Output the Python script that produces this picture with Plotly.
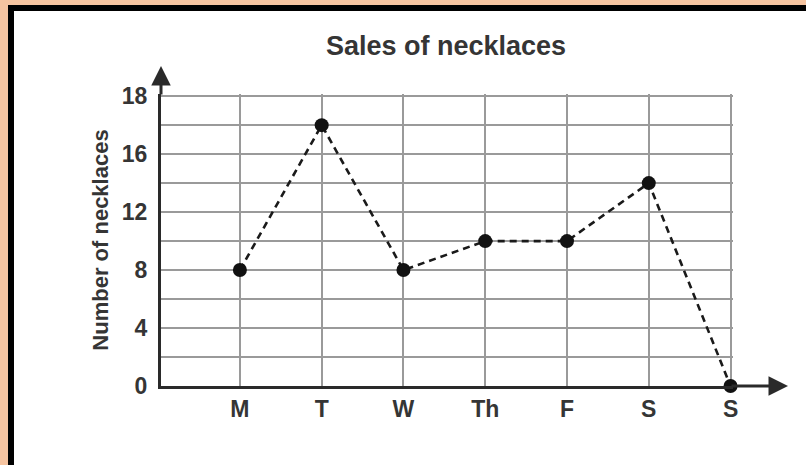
import plotly.graph_objects as go

# Sales of necklaces
days = ['M', 'T', 'W', 'Th', 'F', 'S', 'S']
necklaces = [8, 18, 8, 10, 10, 14, 0]
y_tick_vals = [0, 4, 8, 12, 16, 20]
y_tick_text = ['0', '4', '8', '12', '16', '18']

x_pos = list(range(len(days)))

W, H = 806, 465
L, R, T, B = 161, 73, 94, 79
pw, ph = W - L - R, H - T - B


def px_x(p):
    return (p - L) / pw


def px_y(p):
    return (H - B - p) / ph


ink = '#2a2a2a'
text_col = '#353535'
grid_col = '#9a9a9a'
peach = '#F6C4A0'

fig = go.Figure()
fig.add_trace(go.Scatter(
    x=x_pos,
    y=necklaces,
    mode='lines+markers',
    line=dict(color='#1a1a1a', width=2.6, dash='7px,5px'),
    marker=dict(color='#111111', size=14),
    cliponaxis=False,
    hoverinfo='skip'
))

# page frame: peach edge, black border, white sheet
shapes = [
    dict(type='rect', xref='paper', yref='paper', x0=px_x(-20), x1=px_x(W + 20),
         y0=px_y(H + 20), y1=px_y(-20), fillcolor=peach, line_width=0, layer='below'),
    dict(type='rect', xref='paper', yref='paper', x0=px_x(8), x1=px_x(W + 20),
         y0=px_y(H + 20), y1=px_y(5), fillcolor='#000000', line_width=0, layer='below'),
    dict(type='rect', xref='paper', yref='paper', x0=px_x(14), x1=px_x(W + 20),
         y0=px_y(H + 20), y1=px_y(11), fillcolor='#ffffff', line_width=0, layer='below'),
]

# axis arrows
annotations = [
    dict(xref='paper', yref='paper', x=0, y=px_y(66), ax=0, ay=30,
         axref='pixel', ayref='pixel', text='', showarrow=True,
         arrowhead=2, arrowsize=1.3, arrowwidth=3, arrowcolor=ink),
    dict(xref='paper', yref='paper', x=px_x(788), y=0, ax=-58, ay=0,
         axref='pixel', ayref='pixel', text='', showarrow=True,
         arrowhead=2, arrowsize=1.3, arrowwidth=3, arrowcolor=ink),
]

fig.update_layout(
    width=W,
    height=H,
    margin=dict(l=L, r=R, t=T, b=B, autoexpand=False),
    paper_bgcolor='#ffffff',
    plot_bgcolor='#ffffff',
    showlegend=False,
    shapes=shapes,
    annotations=annotations,
    title=dict(
        text='<b>Sales of necklaces</b>',
        x=446 / W, xref='container', xanchor='center',
        y=1 - 46 / H, yref='container', yanchor='middle',
        font=dict(family='Liberation Sans, Arial', size=27, color=text_col)
    ),
    font=dict(family='Liberation Sans, Arial', color=text_col),
    xaxis=dict(
        range=[-0.965, 6.03],
        tickvals=x_pos,
        ticktext=['<b>%s</b>' % d for d in days],
        tickfont=dict(size=23, color=text_col),
        showgrid=True, gridcolor=grid_col, gridwidth=2,
        showline=True, linecolor=ink, linewidth=3,
        zeroline=False, ticks='', fixedrange=True
    ),
    yaxis=dict(
        range=[0, 20.15],
        tickvals=y_tick_vals,
        ticktext=['<b>%s</b>' % t for t in y_tick_text],
        tickfont=dict(size=23, color=text_col),
        showgrid=True, gridcolor=grid_col, gridwidth=2,
        minor=dict(dtick=2, tick0=0, showgrid=True, gridcolor=grid_col, gridwidth=2),
        showline=True, linecolor=ink, linewidth=3,
        zeroline=False, ticks='', ticklabelstandoff=6,
        title=dict(text='<b>Number of necklaces</b>', standoff=8,
                   font=dict(size=22, color=text_col)),
        automargin=False, fixedrange=True
    )
)

# drop the browser's default body margin so the figure sits at the page corner
fig.write_html("out.html", config={'displayModeBar': False},
               post_script="document.body.style.margin='0';")
